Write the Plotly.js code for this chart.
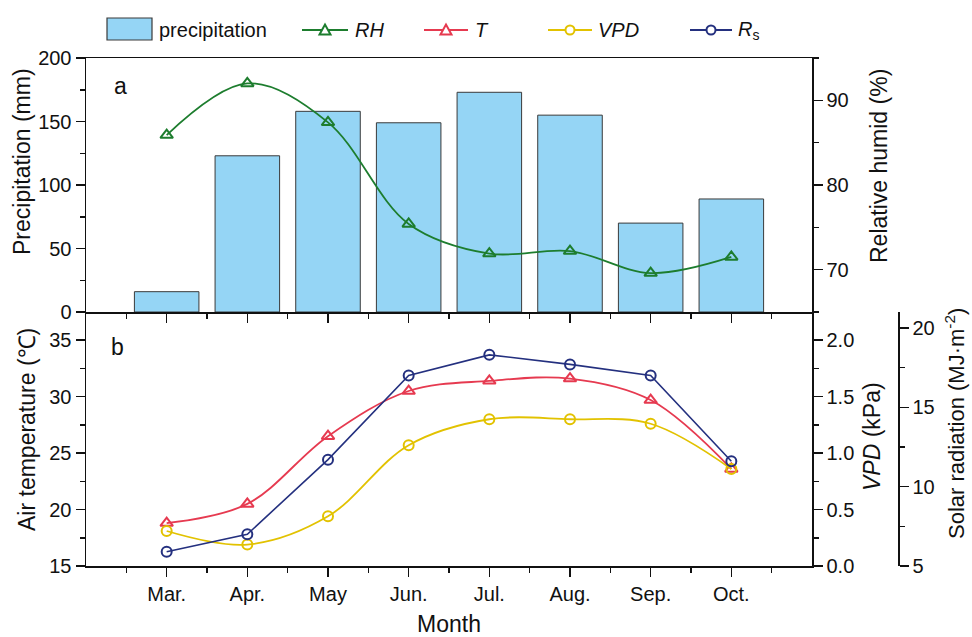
<!DOCTYPE html>
<html>
<head>
<meta charset="utf-8">
<script src="https://cdn.plot.ly/plotly-3.0.1.min.js"></script>
<style>
  html, body { margin: 0; padding: 0; background: #fff; }
  #chart { width: 972px; height: 637px; }
</style>
</head>
<body>
<div id="chart"></div>
<script>
// Monthly climate series, March to October
const months = ['Mar.', 'Apr.', 'May', 'Jun.', 'Jul.', 'Aug.', 'Sep.', 'Oct.'];
const precipitation = [16, 123, 158, 149, 173, 155, 70, 89];        // mm
const relHumidity = [85.9, 92.0, 87.4, 75.4, 71.9, 72.2, 69.6, 71.5]; // %
const airTemp = [18.8, 20.5, 26.5, 30.5, 31.4, 31.6, 29.7, 23.6];     // degC
const vpd = [0.31, 0.19, 0.44, 1.07, 1.30, 1.30, 1.26, 0.86];         // kPa
const solarRad = [5.9, 7.0, 11.7, 17.0, 18.3, 17.7, 17.0, 11.6];      // MJ m-2

const xIdx = months.map((_, i) => i);

// Page geometry (pixels)
const W = 972, H = 637;
const M = { l: 86, r: 10, t: 58, b: 71 };
const PW = W - M.l - M.r, PH = H - M.t - M.b;
const px = x => (x - M.l) / PW;
const py = y => (H - M.b - y) / PH;
const xDomEnd = px(812);

const FONT = 'Liberation Sans, Arial, Helvetica, sans-serif';
const C = {
  bar: '#95d5f5', barLine: '#3a3a3a',
  rh: '#1d7d2e', t: '#e63a50', vpd: '#e2c200', rs: '#24307f'
};

const tri = color => ({ symbol: 'triangle-up-open', size: 11, color: color, line: { color: color, width: 2 } });
const circ = color => ({ symbol: 'circle-open', size: 10, color: color, line: { color: color, width: 2 } });

const traces = [
  { type: 'bar', x: xIdx, y: precipitation, xaxis: 'x2', yaxis: 'y2', width: 0.8,
    marker: { color: C.bar, line: { color: C.barLine, width: 1 } }, name: 'precipitation' },
  { type: 'scatter', mode: 'lines+markers', x: xIdx, y: relHumidity, xaxis: 'x2', yaxis: 'y5',
    line: { color: C.rh, width: 1.8, shape: 'spline', smoothing: 1 }, marker: tri(C.rh), name: 'RH' },
  { type: 'scatter', mode: 'lines+markers', x: xIdx, y: airTemp, xaxis: 'x', yaxis: 'y',
    line: { color: C.t, width: 1.8, shape: 'spline', smoothing: 1 }, marker: tri(C.t), name: 'T' },
  { type: 'scatter', mode: 'lines+markers', x: xIdx, y: vpd, xaxis: 'x', yaxis: 'y3',
    line: { color: C.vpd, width: 1.8, shape: 'spline', smoothing: 1 }, marker: circ(C.vpd), name: 'VPD' },
  { type: 'scatter', mode: 'lines+markers', x: xIdx, y: solarRad, xaxis: 'x', yaxis: 'y4',
    line: { color: C.rs, width: 1.6 }, marker: circ(C.rs), name: 'Rs' }
];

const tickFont = { family: FONT, size: 20, color: '#111' };
const axisBase = {
  showline: true, linecolor: '#111', linewidth: 1.5, showgrid: false, zeroline: false,
  ticks: 'outside', ticklen: 9, tickwidth: 1.5, tickcolor: '#111', tickfont: tickFont,
  automargin: false, fixedrange: true
};

const halfVals = [];
for (let v = -0.5; v < months.length; v += 1) halfVals.push(v);

const xCommon = Object.assign({}, axisBase, {
  domain: [0, xDomEnd], range: [-1, months.length],
  tickmode: 'array', tickvals: xIdx, ticktext: months,
  minor: { tickmode: 'array', tickvals: halfVals, ticks: 'outside', ticklen: 5, tickwidth: 1.5, tickcolor: '#111' }
});

const minorY = d => ({ dtick: d, ticks: 'outside', ticklen: 5, tickwidth: 1.5, tickcolor: '#111' });

const layout = {
  width: W, height: H, margin: M,
  paper_bgcolor: '#fff', plot_bgcolor: 'rgba(0,0,0,0)',
  showlegend: false, font: { family: FONT, color: '#111' },
  xaxis: Object.assign({}, xCommon, {
    anchor: 'y',
    title: { text: 'Month', font: { family: FONT, size: 23 }, standoff: 18 }
  }),
  xaxis2: Object.assign({}, xCommon, { anchor: 'y2', showticklabels: false, mirror: true }),
  yaxis: Object.assign({}, axisBase, {
    domain: [0, 0.5], anchor: 'x', range: [15, 37.5], tick0: 15, dtick: 5, minor: minorY(2.5)
  }),
  yaxis2: Object.assign({}, axisBase, {
    domain: [0.5, 1], anchor: 'x2', range: [0, 200], tick0: 0, dtick: 50, minor: minorY(25)
  }),
  yaxis3: Object.assign({}, axisBase, {
    overlaying: 'y', anchor: 'x', side: 'right', range: [0, 2.25], tick0: 0, dtick: 0.5,
    tickformat: '.1f', minor: minorY(0.25)
  }),
  yaxis4: Object.assign({}, axisBase, {
    overlaying: 'y', anchor: 'free', position: px(898), side: 'right', range: [5, 21],
    tick0: 5, dtick: 5, minor: minorY(2.5)
  }),
  yaxis5: Object.assign({}, axisBase, {
    overlaying: 'y2', anchor: 'x2', side: 'right', range: [65, 95],
    tickmode: 'array', tickvals: [70, 80, 90],
    minor: { tickmode: 'array', tickvals: [75, 85, 95], ticks: 'outside', ticklen: 5, tickwidth: 1.5, tickcolor: '#111' }
  }),
  shapes: [],
  annotations: []
};

// Axis titles and panel letters
const titleFont = { family: FONT, size: 23, color: '#111' };
const vTitle = (text, x, y, size) => ({
  text: text, xref: 'paper', yref: 'paper', x: px(x), y: py(y), textangle: -90,
  xanchor: 'center', yanchor: 'middle', showarrow: false,
  font: Object.assign({}, titleFont, size ? { size: size } : {})
});
layout.annotations.push(
  vTitle('Precipitation (mm)', 22, 162),
  vTitle('Air temperature (℃)', 27, 430),
  vTitle('Relative humid (%)', 879, 166),
  vTitle('<i>VPD</i> (kPa)', 872, 437),
  vTitle('Solar radiation (MJ·m<sup>-2</sup>)', 955, 424, 22),
  { text: 'a', xref: 'paper', yref: 'paper', x: px(120), y: py(86), xanchor: 'center', yanchor: 'middle',
    showarrow: false, font: titleFont },
  { text: 'b', xref: 'paper', yref: 'paper', x: px(117), y: py(347), xanchor: 'center', yanchor: 'middle',
    showarrow: false, font: titleFont }
);

// Legend row across the top
const legY = 30;
const legFont = { family: FONT, size: 20, color: '#111' };
const legText = (text, x) => ({
  text: text, xref: 'paper', yref: 'paper', x: px(x), y: py(legY), xanchor: 'left', yanchor: 'middle',
  showarrow: false, font: legFont
});
layout.shapes.push({
  type: 'rect', xref: 'paper', yref: 'paper', x0: px(107), x1: px(152), y0: py(40), y1: py(18),
  fillcolor: C.bar, line: { color: C.barLine, width: 1.2 }
});
layout.annotations.push(legText('precipitation', 157));

const legLine = (x0, x1, color) => ({
  type: 'line', xref: 'paper', yref: 'paper', x0: px(x0), x1: px(x1), y0: py(legY), y1: py(legY),
  line: { color: color, width: 1.8 }
});
const legTri = (x, color) => ({
  type: 'path', xref: 'paper', yref: 'paper', xsizemode: 'pixel', ysizemode: 'pixel',
  xanchor: px(x), yanchor: py(legY), path: 'M-5.5,-4.5 L5.5,-4.5 L0,5.5 Z',
  fillcolor: '#fff', line: { color: color, width: 2 }
});
const legCirc = (x, color) => ({
  type: 'circle', xref: 'paper', yref: 'paper', xsizemode: 'pixel', ysizemode: 'pixel',
  xanchor: px(x), yanchor: py(legY), x0: -4.5, x1: 4.5, y0: -4.5, y1: 4.5,
  fillcolor: '#fff', line: { color: color, width: 2 }
});

layout.shapes.push(legLine(302, 348, C.rh), legTri(325, C.rh));
layout.annotations.push(legText('<i>RH</i>', 353));
layout.shapes.push(legLine(424, 468, C.t), legTri(446, C.t));
layout.annotations.push(legText('<i>T</i>', 473));
layout.shapes.push(legLine(548, 592, C.vpd), legCirc(570, C.vpd));
layout.annotations.push(legText('<i>VPD</i>', 596));
layout.shapes.push(legLine(690, 732, C.rs), legCirc(711, C.rs));
layout.annotations.push(legText('<i>R</i><sub>s</sub>', 736));

Plotly.newPlot('chart', traces, layout, { displayModeBar: false, staticPlot: true });
</script>
</body>
</html>
